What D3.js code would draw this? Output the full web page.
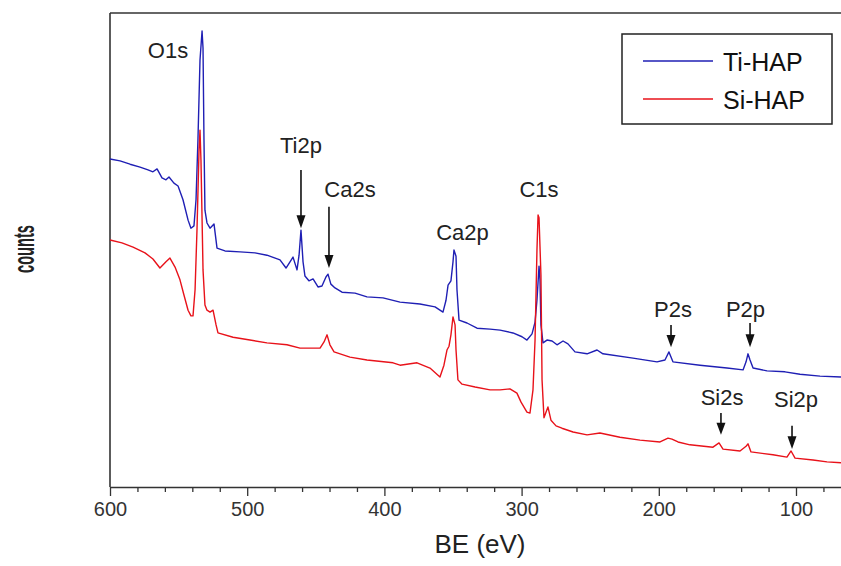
<!DOCTYPE html>
<html>
<head>
<meta charset="utf-8">
<script src="https://cdn.jsdelivr.net/npm/d3@7"></script>
<style>
  body { margin: 0; background: #fff; }
  svg { display: block; font-family: "Liberation Sans", Arial, sans-serif; }
</style>
</head>
<body>
<svg id="chart" width="841" height="566"></svg>
<script>
// XPS survey spectra, BE (eV) vs counts (arbitrary units)
const tiBE = [600.0, 592.7, 585.4, 578.1, 572.3, 568.7, 565.7, 562.1, 559.2, 557.0, 553.4, 550.4, 546.8, 543.1, 541.0, 538.8,
  537.3, 535.9, 534.4, 532.9, 532.2, 531.5, 530.8, 529.3, 527.1, 524.2, 522.0, 516.2, 505.2, 494.3, 485.6, 476.1,
  471.7, 468.8, 466.6, 463.7, 462.2, 460.8, 459.3, 457.9, 455.0, 452.0, 448.4, 445.5, 442.6, 441.1, 439.0, 436.0,
  430.9, 421.4, 412.7, 401.0, 388.6, 374.1, 363.1, 357.3, 355.1, 353.6, 351.5, 350.0, 349.3, 347.8, 347.1, 345.6,
  339.8, 332.5, 323.0, 315.7, 306.3, 299.7, 296.1, 292.4, 290.2, 288.8, 287.3, 286.6, 285.9, 284.4, 281.5, 277.8,
  274.2, 269.8, 266.2, 261.1, 252.3, 245.0, 240.7, 218.8, 201.3, 195.5, 192.6, 189.7, 170.0, 150.3, 138.6, 136.4,
  135.0, 133.5, 131.3, 121.1, 108.0, 97.1, 82.5, 67.2]
const tiCounts = [69.2, 68.8, 68.1, 67.5, 66.9, 66.5, 67.1, 65.2, 64.8, 65.4, 64.1, 63.5, 60.6, 56.3, 54.6, 55.1,
  60.6, 73.2, 90.1, 96.2, 92.6, 73.2, 58.4, 55.7, 54.6, 55.5, 50.4, 49.8, 49.6, 49.4, 48.9, 47.9,
  46.2, 47.5, 48.5, 45.8, 48.9, 54.2, 47.5, 44.5, 43.5, 43.9, 42.2, 42.4, 44.3, 44.9, 42.8, 42.0,
  41.1, 40.9, 40.1, 39.9, 39.0, 38.6, 38.0, 36.9, 39.4, 42.6, 43.5, 47.5, 50.0, 48.7, 41.6, 35.2,
  34.6, 33.5, 33.3, 33.1, 32.5, 31.7, 31.0, 32.3, 34.8, 39.4, 46.6, 43.7, 34.2, 30.4, 31.0, 30.8,
  30.0, 30.8, 30.2, 28.5, 28.1, 28.9, 28.1, 27.2, 26.4, 26.8, 28.5, 26.4, 25.7, 25.1, 24.7, 26.4,
  28.1, 26.8, 25.1, 24.5, 24.3, 23.8, 23.4, 23.2]

const siBE = [600.0, 591.3, 583.2, 574.5, 568.7, 563.6, 559.2, 556.3, 552.6, 549.0, 546.1, 543.1, 541.0, 539.5, 538.0, 536.6,
  535.1, 534.4, 533.7, 532.2, 530.8, 529.3, 527.1, 524.9, 522.7, 521.3, 510.3, 498.0, 485.6, 471.0, 461.5, 446.9,
  444.0, 441.8, 439.7, 436.7, 425.1, 412.7, 393.7, 388.6, 376.2, 366.8, 359.5, 356.6, 354.4, 352.9, 351.5, 350.0,
  348.5, 347.8, 346.4, 343.4, 333.9, 323.0, 315.7, 308.5, 303.4, 300.4, 296.1, 293.9, 291.7, 290.2, 288.8, 288.0,
  287.3, 285.9, 285.1, 283.7, 280.8, 278.6, 274.9, 270.6, 262.5, 252.3, 242.9, 228.3, 213.7, 199.1, 193.3, 190.4,
  186.0, 177.3, 160.5, 156.1, 153.2, 140.8, 136.4, 135.0, 132.8, 116.8, 106.6, 103.6, 100.7, 87.6, 77.4, 67.2]
const siCounts = [52.1, 51.5, 50.6, 49.4, 48.1, 46.2, 47.5, 48.3, 46.4, 43.7, 40.5, 37.3, 36.1, 36.1, 41.6, 54.2,
  71.1, 75.3, 69.0, 45.8, 38.4, 37.3, 36.9, 37.3, 34.2, 32.5, 31.6, 31.0, 30.4, 30.0, 29.3, 29.3,
  30.6, 32.1, 30.0, 28.5, 27.4, 26.8, 26.2, 25.7, 26.2, 25.1, 23.2, 25.7, 28.9, 29.7, 32.1, 35.9,
  34.2, 28.9, 22.6, 21.7, 21.1, 20.5, 20.5, 20.7, 19.8, 17.9, 15.8, 15.6, 20.5, 31.0, 50.0, 57.4,
  56.8, 44.7, 22.6, 14.6, 16.9, 14.1, 12.9, 12.4, 11.6, 11.0, 11.4, 10.5, 9.9, 9.5, 10.3, 10.1,
  9.5, 8.9, 8.4, 9.3, 8.0, 7.6, 8.6, 9.1, 7.4, 6.8, 6.3, 7.6, 6.1, 5.7, 5.3, 5.1]

const seriesNames = ['Ti-HAP', 'Si-HAP']
const seriesColors = ['#1f1fb4', '#e8121a']

const majorTicks = [600, 500, 400, 300, 200, 100]
const minorTicks = d3.range(580, 60, -20).filter(v => v % 100 !== 0)

// peak labels: name, BE of text centre, counts of baseline
const peakNames = ['O1s', 'Ti2p', 'Ca2s', 'Ca2p', 'C1s', 'P2s', 'P2p', 'Si2s', 'Si2p']
const peakBE = [557.7, 460.8, 425.1, 343.1, 287.3, 189.7, 136.8, 153.9, 100.0]
const peakCounts = [90.5, 70.5, 61.2, 52.1, 61.2, 35.9, 35.9, 17.3, 16.9]

// arrows: BE, counts of tail, counts of tip
const arrowBE = [460.8, 440.4, 191.1, 133.5, 154.7, 102.9]
const arrowFrom = [66.9, 59.1, 34.2, 34.6, 15.6, 12.9]
const arrowTo = [54.6, 46.2, 29.5, 29.5, 11.0, 8.0]

const svg = d3.select('#chart')
const plotLeft = 110, plotRight = 841, plotTop = 13, plotBottom = 487

const x = d3.scaleLinear().domain([600, 67.2]).range([plotLeft, plotRight])
const y = d3.scaleLinear().domain([0, 100]).range([plotBottom, plotTop])

const line = d3.line()
  .x(d => x(d[0]))
  .y(d => y(d[1]))

const series = [
  d3.zip(tiBE, tiCounts),
  d3.zip(siBE, siCounts),
]

// frame
svg.append('line')
  .attr('x1', plotLeft).attr('x2', plotRight).attr('y1', plotTop).attr('y2', plotTop)
  .attr('stroke', '#333').attr('stroke-width', 1.6)
svg.append('line')
  .attr('x1', plotLeft).attr('x2', plotLeft).attr('y1', plotTop).attr('y2', plotBottom)
  .attr('stroke', '#333').attr('stroke-width', 1.6)

// bottom axis: minor then major ticks
const minorAxis = svg.append('g')
  .attr('transform', 'translate(0,' + plotBottom + ')')
  .call(d3.axisBottom(x).tickValues(minorTicks).tickSize(5).tickFormat(''))
minorAxis.select('.domain').remove()
minorAxis.selectAll('line').attr('stroke', '#333').attr('stroke-width', 1.3)

const majorAxis = svg.append('g')
  .attr('transform', 'translate(0,' + plotBottom + ')')
  .call(d3.axisBottom(x).tickValues(majorTicks).tickSize(9).tickSizeOuter(0).tickPadding(6))
majorAxis.select('.domain').attr('stroke', '#333').attr('stroke-width', 1.6)
majorAxis.selectAll('line').attr('stroke', '#333').attr('stroke-width', 1.3)
majorAxis.selectAll('text')
  .attr('font-size', 20)
  .attr('font-family', '"Liberation Sans", Arial, sans-serif')
  .attr('fill', '#333')

// spectra
series.forEach((s, i) => {
  svg.append('path')
    .datum(s)
    .attr('fill', 'none')
    .attr('stroke', seriesColors[i])
    .attr('stroke-width', 1.4)
    .attr('stroke-linejoin', 'round')
    .attr('d', line)
})

// peak labels
peakNames.forEach((name, i) => {
  svg.append('text')
    .attr('x', x(peakBE[i]))
    .attr('y', y(peakCounts[i]))
    .attr('text-anchor', 'middle')
    .attr('font-size', 22)
    .attr('fill', '#222')
    .text(name)
})

// arrows
arrowBE.forEach((be, i) => {
  const ax = x(be), y0 = y(arrowFrom[i]), y1 = y(arrowTo[i])
  const head = Math.min(13, (y1 - y0) * 0.55)
  svg.append('line')
    .attr('x1', ax).attr('x2', ax)
    .attr('y1', y0).attr('y2', y1 - head + 1)
    .attr('stroke', '#111').attr('stroke-width', 1.6)
  svg.append('path')
    .attr('d', 'M' + (ax - 4.5) + ',' + (y1 - head) + 'L' + (ax + 4.5) + ',' + (y1 - head) + 'L' + ax + ',' + y1 + 'Z')
    .attr('fill', '#111')
})

// axis titles
svg.append('text')
  .attr('x', 480).attr('y', 553)
  .attr('text-anchor', 'middle')
  .attr('font-size', 26)
  .attr('fill', '#222')
  .text('BE (eV)')

svg.append('text')
  .attr('transform', 'translate(34,249) rotate(-90)')
  .attr('text-anchor', 'middle')
  .attr('font-size', 29)
  .attr('font-weight', 'bold')
  .attr('textLength', 48)
  .attr('lengthAdjust', 'spacingAndGlyphs')
  .attr('fill', '#222')
  .text('counts')

// legend
const legend = svg.append('g')
legend.append('rect')
  .attr('x', 622).attr('y', 34).attr('width', 210).attr('height', 90)
  .attr('fill', '#fff').attr('stroke', '#222').attr('stroke-width', 1.5)
seriesNames.forEach((name, i) => {
  const ly = 61 + i * 38
  legend.append('line')
    .attr('x1', 643).attr('x2', 713).attr('y1', ly).attr('y2', ly)
    .attr('stroke', seriesColors[i]).attr('stroke-width', 1.3)
  legend.append('text')
    .attr('x', 723).attr('y', ly + 10)
    .attr('font-size', 25)
    .attr('fill', '#111')
    .text(name)
})
</script>
</body>
</html>
